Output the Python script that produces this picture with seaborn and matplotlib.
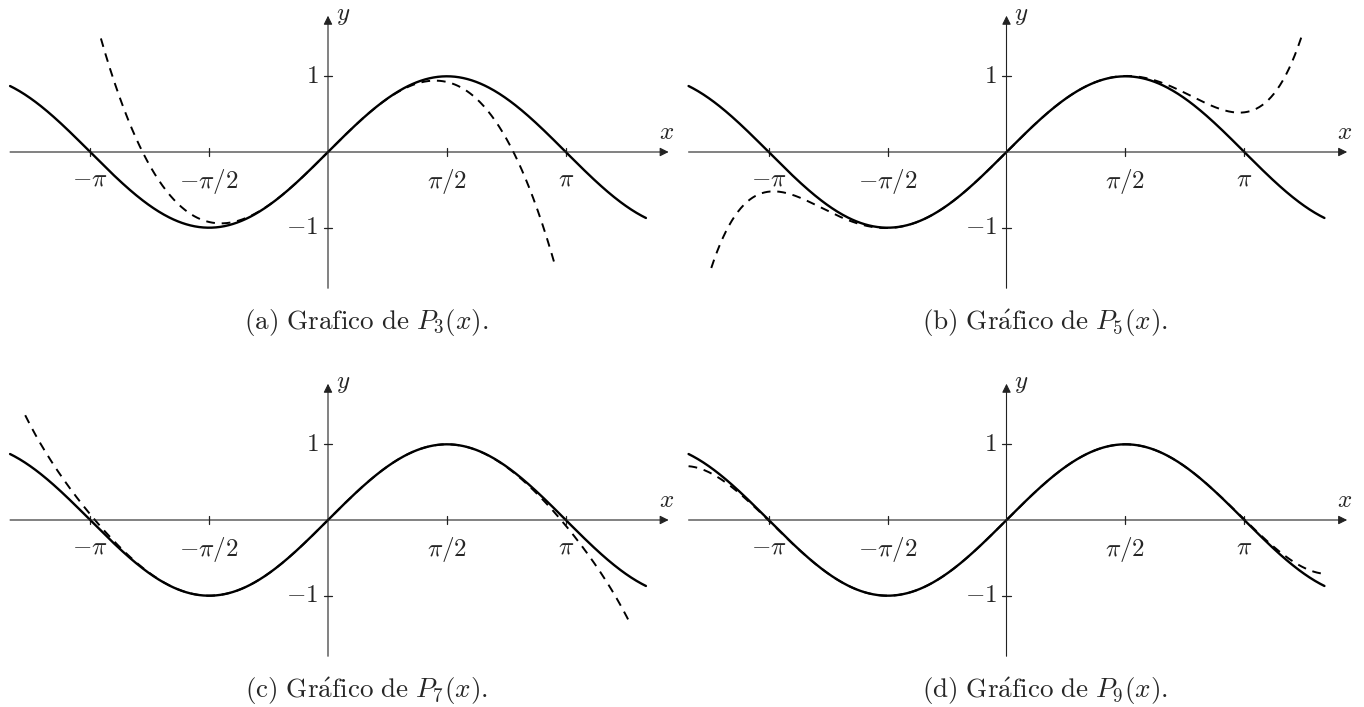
import numpy as np
import pandas as pd
import matplotlib
matplotlib.use("Agg")
import matplotlib.pyplot as plt
import seaborn as sns

# Taylor polynomials of sin(x): odd-power coefficients (x, x^3, x^5, ...)
taylor_degrees = [3, 5, 7, 9]
taylor_coefs = [
    [1, -1 / 6],
    [1, -1 / 6, 1 / 120],
    [1, -1 / 6, 1 / 120, -1 / 5040],
    [1, -1 / 6, 1 / 120, -1 / 5040, 1 / 362880],
]
# half-width of the interval on which each polynomial is drawn
taylor_halfwidth = [3.0, 3.9, 4.0, 4.2]
sin_halfwidth = 4.2

panel_letters = ["a", "b", "c", "d"]
caption_words = [r"Grafico", r"Gr\acute{a}fico", r"Gr\acute{a}fico", r"Gr\acute{a}fico"]

xtick_values = [-np.pi, -np.pi / 2, np.pi / 2, np.pi]
xtick_labels = [r"$-\pi$", r"$-\pi/2$", r"$\pi/2$", r"$\pi$"]
ytick_values = [1, -1]
ytick_labels = [r"$1$", r"$-1$"]

sns.set_theme(style="white")
plt.rcParams["mathtext.fontset"] = "cm"
plt.rcParams["font.family"] = ["DejaVu Serif"]

W, H = 1364, 707
DPI = 100
UNIT = 75.7  # pixels per data unit
fig = plt.figure(figsize=(W / DPI, H / DPI), dpi=DPI, facecolor="white")

# pixel position of each panel's origin (from the top-left corner)
origins = [(328, 152), (1006.5, 152), (328, 520), (1006.5, 520)]
XL = (-4.4, 4.8)
YL = (-1.95, 2.0)

FS = 18
CAP_FS = 19.5
AX_COLOR = "#222222"


def poly_odd(coefs, x):
    y = np.zeros_like(x)
    for k, c in enumerate(coefs):
        y += c * x ** (2 * k + 1)
    return y


for i in range(4):
    ox, oy = origins[i]
    left = (ox + XL[0] * UNIT) / W
    width = (XL[1] - XL[0]) * UNIT / W
    bottom = (H - (oy - YL[0] * UNIT)) / H
    height = (YL[1] - YL[0]) * UNIT / H
    ax = fig.add_axes([left, bottom, width, height])
    ax.set_xlim(*XL)
    ax.set_ylim(*YL)
    ax.axis("off")

    # axes with arrow heads
    ax.annotate("", xy=(4.5, 0), xytext=(-4.2, 0),
                arrowprops=dict(arrowstyle="-|>", color=AX_COLOR, lw=0.8,
                                mutation_scale=13, shrinkA=0, shrinkB=0))
    ax.annotate("", xy=(0, 1.8), xytext=(0, -1.8),
                arrowprops=dict(arrowstyle="-|>", color=AX_COLOR, lw=0.8,
                                mutation_scale=13, shrinkA=0, shrinkB=0))
    ax.text(4.47, 0.1, r"$x$", ha="center", va="bottom", fontsize=FS)
    ax.text(0.1, 1.8, r"$y$", ha="left", va="center", fontsize=FS)

    # ticks
    for xv, lab in zip(xtick_values, xtick_labels):
        ax.plot([xv, xv], [-0.055, 0.055], color=AX_COLOR, lw=0.9)
        ax.text(xv, -0.2, lab, ha="center", va="top", fontsize=FS)
    for yv, lab in zip(ytick_values, ytick_labels):
        ax.plot([-0.055, 0.055], [yv, yv], color=AX_COLOR, lw=0.9)
        ax.text(-0.13, yv, lab, ha="right", va="center", fontsize=FS)

    # sin(x)
    xs = np.linspace(-sin_halfwidth, sin_halfwidth, 600)
    df_sin = pd.DataFrame({"x": xs, "y": np.sin(xs)})
    sns.lineplot(data=df_sin, x="x", y="y", color="black", lw=1.7,
                 errorbar=None, sort=False, ax=ax)

    # Taylor polynomial
    hw = taylor_halfwidth[i]
    xp = np.linspace(-hw, hw, 600)
    df_p = pd.DataFrame({"x": xp, "y": poly_odd(taylor_coefs[i], xp)})
    sns.lineplot(data=df_p, x="x", y="y", color="black", lw=1.4,
                 linestyle=(0, (4.5, 3.5)), errorbar=None, sort=False, ax=ax)
    ax.set_xlim(*XL)
    ax.set_ylim(*YL)
    ax.axis("off")

    # caption
    cap = (r"$\mathrm{(" + panel_letters[i] + r")\ " + caption_words[i]
           + r"\ de\ }P_{" + str(taylor_degrees[i]) + r"}(x)\mathrm{.}$")
    cy = oy + 171
    fig.text((ox + 38) / W, 1 - cy / H, cap, ha="center", va="center",
             fontsize=CAP_FS)

fig.savefig("out.png", dpi=DPI, facecolor="white")
